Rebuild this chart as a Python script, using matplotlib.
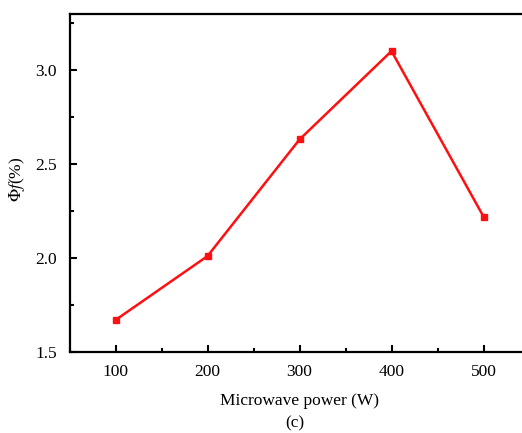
import matplotlib.pyplot as plt
from matplotlib.ticker import MultipleLocator

power = [100, 200, 300, 400, 500]
phi_f = [1.67, 2.01, 2.63, 3.10, 2.22]

plt.rcParams['font.family'] = ['Liberation Serif', 'DejaVu Serif']
plt.rcParams['mathtext.fontset'] = 'stix'

fig = plt.figure(figsize=(5.22, 4.33), dpi=100)
ax = fig.add_axes([69.5 / 522, 1 - 352 / 433, (529.5 - 69.5) / 522, (352 - 13.5) / 433])

ax.plot(power, phi_f, color='#ff1010', lw=1.8, marker='s', markersize=4.5)

ax.set_xlim(50, 550)
ax.set_ylim(1.5, 3.3)
ax.xaxis.set_major_locator(MultipleLocator(100))
ax.xaxis.set_minor_locator(MultipleLocator(50))
ax.yaxis.set_major_locator(MultipleLocator(0.5))
ax.yaxis.set_minor_locator(MultipleLocator(0.25))
ax.tick_params(which='both', direction='in', top=False, right=False, labelsize=12.5, width=1.5)
ax.tick_params(which='major', length=5)
ax.tick_params(which='minor', length=3)
ax.tick_params(axis='y', pad=9)
ax.tick_params(axis='x', pad=9)
for side in ['left', 'bottom', 'top']:
    ax.spines[side].set_linewidth(1.6)
ax.spines['right'].set_visible(False)

ax.set_xlabel('Microwave power (W)', fontsize=12.5, labelpad=9)
ax.set_ylabel(r'$\mathit{\Phi f}$(%)', fontsize=12.5)
ax.yaxis.set_label_coords(-0.092, 0.51)
fig.text(295 / 522, 1 - 423 / 433, '(c)', ha='center', va='center', fontsize=12.5)

fig.savefig('out.png', dpi=100)
